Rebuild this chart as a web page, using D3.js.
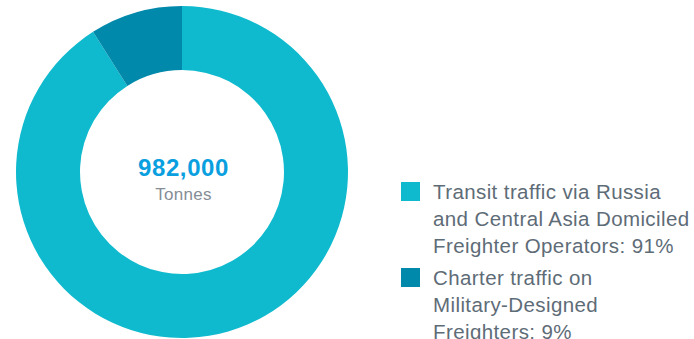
<!DOCTYPE html>
<html><head><meta charset="utf-8">
<script src="https://cdn.jsdelivr.net/npm/d3@7"></script>
<style>html,body{margin:0;padding:0;background:#fff;}svg{display:block;}</style>
</head><body>
<svg id="chart" width="694" height="339"></svg>
<script>
const categories = ["Transit traffic via Russia and Central Asia Domiciled Freighter Operators", "Charter traffic on Military-Designed Freighters"];
const values = [91, 9];
const legendLines = [
  ["Transit traffic via Russia", "and Central Asia Domiciled", "Freighter Operators: 91%"],
  ["Charter traffic on", "Military-Designed", "Freighters: 9%"]
];
const colors = ["#10BACE", "#0089AB"];
const totalLabel = "982,000";
const unitLabel = "Tonnes";

const svg = d3.select("#chart");
const cx = 182, cy = 172, rOuter = 166, rInner = 102;
const font = "'Liberation Sans', Arial, sans-serif";

const pie = d3.pie().sort(null).value(d => d)(values);
const arc = d3.arc().innerRadius(rInner).outerRadius(rOuter);
const color = d3.scaleOrdinal().domain(categories).range(colors);

const g = svg.append("g").attr("transform", `translate(${cx},${cy})`);
g.selectAll("path").data(pie).join("path")
  .attr("d", arc)
  .attr("fill", (d, i) => color(categories[i]));

g.append("text").attr("x", 1.5).attr("y", 4).attr("text-anchor", "middle")
  .attr("font-family", font).attr("font-weight", "bold").attr("font-size", 24)
  .attr("letter-spacing", 0.6)
  .attr("fill", "#0A9FDF").text(totalLabel);
g.append("text").attr("x", 1.5).attr("y", 27.5).attr("text-anchor", "middle")
  .attr("font-family", font).attr("font-size", 17).attr("letter-spacing", 0.3)
  .attr("fill", "#858D96").text(unitLabel);

const leg = svg.append("g");
const lg = leg.selectAll("g").data(categories).join("g")
  .attr("transform", (d, i) => `translate(401,${182 + i * 86})`);
lg.append("rect").attr("width", 19).attr("height", 19).attr("fill", d => color(d));
lg.append("text").attr("font-family", font).attr("font-size", 20.5).attr("letter-spacing", 0.4)
  .attr("fill", "#5E6C77")
  .selectAll("tspan").data((d, i) => legendLines[i]).join("tspan")
  .attr("x", 32).attr("y", (d, j) => 17.3 + j * 26.7).text(d => d);
</script>
</body></html>
